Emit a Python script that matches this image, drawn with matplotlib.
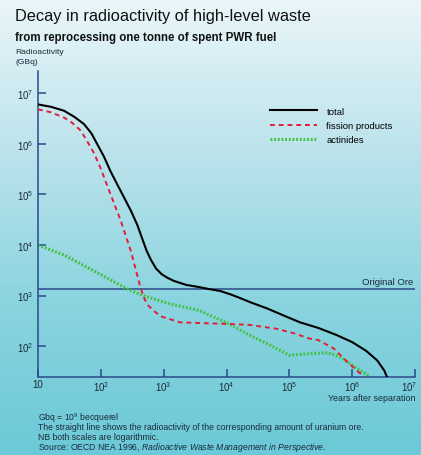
import numpy as np
import matplotlib
matplotlib.use("Agg")
import matplotlib.pyplot as plt
from matplotlib.colors import LinearSegmentedColormap
from matplotlib.transforms import ScaledTranslation

plt.rcParams['font.family'] = ['Liberation Sans', 'DejaVu Sans']
plt.rcParams['mathtext.fontset'] = 'custom'
plt.rcParams['mathtext.rm'] = 'Liberation Sans'
plt.rcParams['mathtext.it'] = 'Liberation Sans:italic'
plt.rcParams['mathtext.default'] = 'regular'

# Total activity (years, GBq)
total_years = [10, 16, 26, 38, 54, 71, 87, 112, 141, 182, 234, 302, 380, 457, 537,
               631, 759, 933, 1150, 1450, 2290, 3550, 5130, 7940, 11700, 15800,
               25100, 43600, 95500, 148000, 288000, 562000, 1000000, 1660000,
               2510000, 3240000, 3720000]
total_gbq = [6.0e6, 5.4e6, 4.5e6, 3.4e6, 2.45e6, 1.6e6, 1.0e6, 5.6e5, 2.95e5,
             1.58e5, 8.7e4, 4.7e4, 2.5e4, 1.32e4, 7600, 5000, 3400, 2630, 2240,
             1950, 1620, 1480, 1350, 1230, 1050, 910, 720, 560, 370, 295, 229,
             166, 120, 81, 52, 33, 22]

# Fission products
fission_years = [10, 16, 26, 35, 48, 60, 78, 100, 145, 209, 302, 339, 380, 427,
                 490, 550, 708, 891, 1820, 5130, 10500, 22900, 64600, 120000,
                 209000, 288000, 513000, 794000, 1120000, 1480000, 1660000]
fission_gbq = [4.8e6, 4.2e6, 3.3e6, 2.6e6, 1.82e6, 1.15e6, 6.5e5, 3.2e5, 9.5e4,
               2.95e4, 7400, 4300, 2500, 1450, 890, 660, 490, 390, 295, 282, 275,
               263, 219, 178, 141, 132, 89, 52, 35, 26, 22]

# Actinides
actinide_years = [10, 26, 89, 263, 490, 1290, 3630, 5130, 10500, 22900, 49000,
                  100000, 209000, 407000, 631000, 1000000, 1660000, 2190000]
actinide_gbq = [10000, 6300, 2800, 1350, 980, 680, 510, 420, 282, 166, 105, 66,
                71, 74, 62, 42, 28, 22]

# Original uranium ore level
ore_gbq = 1350

x_ticks = [10, 1e2, 1e3, 1e4, 1e5, 1e6, 1e7]
x_labels = ['10', '$10^2$', '$10^3$', '$10^4$', '$10^5$', '$10^6$', '$10^7$']
y_ticks = [1e2, 1e3, 1e4, 1e5, 1e6, 1e7]
y_labels = ['$10^2$', '$10^3$', '$10^4$', '$10^5$', '$10^6$', '$10^7$']

W, H = 421, 456
fig = plt.figure(figsize=(W / 100, H / 100), dpi=100)

# background gradient
bg = fig.add_axes([0, 0, 1, 1], zorder=-10)
cmap = LinearSegmentedColormap.from_list('bg', ['#eaf6f9', '#bce3ec', '#8ad4df', '#6cc9d7'])
bg.imshow(np.linspace(0, 1, 256).reshape(-1, 1), aspect='auto', cmap=cmap,
          extent=[0, 1, 0, 1], origin='upper')
bg.axis('off')

navy = '#2b4a8c'
ax = fig.add_axes([38 / W, 1 - 378 / H, (415 - 38) / W, (378 - 72) / H])
ax.patch.set_alpha(0)
ax.set_xscale('log')
ax.set_yscale('log')
ax.set_xlim(10, 1e7)
ax.set_ylim(24.5, 2.75e7)

ax.plot(total_years, total_gbq, color='black', lw=1.5, label='total', zorder=4)
ax.plot(fission_years, fission_gbq, color='#e0203a', lw=1.4, ls=(0, (2.5, 2)),
        label='fission products', zorder=3)
ax.plot(actinide_years, actinide_gbq, color='#3fc23f', lw=2.2, ls=(0, (0.6, 0.6)),
        label='actinides', zorder=2)
ax.axhline(ore_gbq, color=navy, lw=1.1, zorder=1)
ax.text(0.995, ore_gbq * 1.12, 'Original Ore', transform=ax.get_yaxis_transform(),
        ha='right', va='bottom', fontsize=6.8, color='#1a2a3a')

for s in ['top', 'right']:
    ax.spines[s].set_visible(False)
for s in ['left', 'bottom']:
    ax.spines[s].set_color(navy)
    ax.spines[s].set_linewidth(1.1)

ax.set_xticks(x_ticks)
ax.set_xticklabels(x_labels)
ax.set_yticks(y_ticks)
ax.set_yticklabels(y_labels)
ax.minorticks_off()
ax.tick_params(direction='in', length=6, width=1.1, color=navy, labelsize=7.0,
               labelcolor='#1a2a3a')
ax.tick_params(axis='x', pad=1.5)
ax.tick_params(axis='y', pad=3)
# keep the last x label inside the figure
last = ax.get_xticklabels()[-1]
last.set_transform(last.get_transform() + ScaledTranslation(-4 / 72, 0, fig.dpi_scale_trans))

ax.legend(loc='upper left', bbox_to_anchor=(265 / W, 1 - 103 / H),
          bbox_transform=fig.transFigure, frameon=False, fontsize=6.8,
          handlelength=5.0, handletextpad=1.0, labelspacing=0.55, borderpad=0)

# titles and notes
fig.text(15 / W, 1 - 17 / H, 'Decay in radioactivity of high-level waste',
         fontsize=11.8, va='center', color='#111111')
fig.text(15 / W, 1 - 38 / H, 'from reprocessing one tonne of spent PWR fuel',
         fontsize=8.3, fontweight='bold', va='center', color='#111111')
fig.text(15 / W, 1 - 53 / H, 'Radioactivity', fontsize=6.1, va='center', color='#1a2a3a')
fig.text(15 / W, 1 - 62 / H, '(GBq)', fontsize=6.1, va='center', color='#1a2a3a')
fig.text(415 / W, 1 - 399 / H, 'Years after separation', fontsize=6.4, ha='right',
         va='center', color='#1a2a3a')

notes = ['Gbq = $10^9$ becquerel',
         'The straight line shows the radioactivity of the corresponding amount of uranium ore.',
         'NB both scales are logarithmic.']
for i, line in enumerate(notes):
    fig.text(38 / W, 1 - (418 + i * 10) / H, line, fontsize=6.2, va='center',
             color='#1a2a3a')
fig.text(38 / W, 1 - 448 / H,
         'Source: OECD NEA 1996, $\\it{Radioactive\\ Waste\\ Management\\ in\\ Perspective.}$',
         fontsize=6.2, va='center', color='#1a2a3a')

fig.savefig('out.png', dpi=100)
